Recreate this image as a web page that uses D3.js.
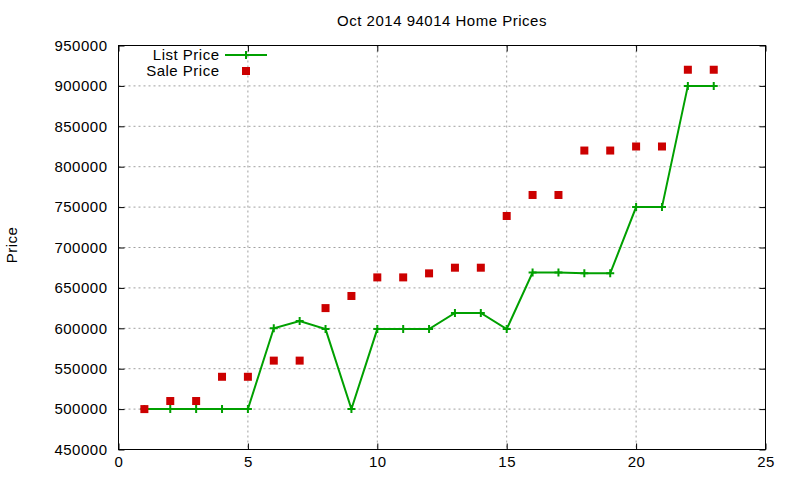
<!DOCTYPE html>
<html>
<head>
<meta charset="utf-8">
<script src="https://cdn.jsdelivr.net/npm/d3@7"></script>
<style>
  body { margin: 0; background: #fff; }
  text { font-family: "Liberation Sans", Arial, sans-serif; font-size: 15px; letter-spacing: 0.5px; fill: #000; }
</style>
</head>
<body>
<script>
let idx = d3.range(1, 24);
let listPrice = [500000, 500000, 500000, 500000, 500000, 600000, 609000, 599000, 500000, 599000,
  599000, 599000, 619000, 619000, 599000, 669000, 669000, 668000, 668000, 750000,
  750000, 900000, 900000];
let salePrice = [500000, 510000, 510000, 540000, 540000, 560000, 560000, 625000, 640000, 663000,
  663000, 668000, 675000, 675000, 739000, 765000, 765000, 820000, 820000, 825000,
  825000, 920000, 920000];
let xTicks = [0, 5, 10, 15, 20, 25];
let yTicks = d3.range(450000, 950001, 50000);

let width = 800, height = 480;
let plotLeft = 118.5, plotRight = 765.5, plotTop = 45.5, plotBottom = 449.5;
let green = "#00a000", red = "#cc0000";

let svg = d3.select("body").append("svg")
  .attr("width", width)
  .attr("height", height);

let x = d3.scaleLinear().domain([0, 25]).range([plotLeft, plotRight]);
let y = d3.scaleLinear().domain([450000, 950000]).range([plotBottom, plotTop]);

// grid
svg.append("g").selectAll("line")
  .data(yTicks.slice(1, -1)).enter()
  .append("line")
  .attr("x1", plotLeft).attr("x2", plotRight)
  .attr("y1", d => y(d)).attr("y2", d => y(d))
  .attr("stroke", "#a0a0a0").attr("stroke-dasharray", "2,3");

svg.append("g").selectAll("line")
  .data(xTicks.slice(1, -1)).enter()
  .append("line")
  .attr("y1", plotTop).attr("y2", plotBottom)
  .attr("x1", d => x(d)).attr("x2", d => x(d))
  .attr("stroke", "#a0a0a0").attr("stroke-dasharray", "2,3");

// axes, ticks inward and mirrored
let yLeft = svg.append("g").attr("transform", `translate(${plotLeft},0)`)
  .call(d3.axisLeft(y).tickValues(yTicks).tickSizeInner(-6).tickSizeOuter(0).tickPadding(11).tickFormat(d3.format("d")));
let yRight = svg.append("g").attr("transform", `translate(${plotRight},0)`)
  .call(d3.axisRight(y).tickValues(yTicks).tickSizeInner(-6).tickSizeOuter(0).tickFormat(""));
let xBottom = svg.append("g").attr("transform", `translate(0,${plotBottom})`)
  .call(d3.axisBottom(x).tickValues(xTicks).tickSizeInner(-6).tickSizeOuter(0).tickPadding(7));
let xTop = svg.append("g").attr("transform", `translate(0,${plotTop})`)
  .call(d3.axisTop(x).tickValues(xTicks).tickSizeInner(-6).tickSizeOuter(0).tickFormat(""));

[yLeft, yRight, xBottom, xTop].forEach(g => {
  g.selectAll(".domain").remove();
  g.attr("font-size", null).attr("font-family", null);
  g.selectAll(".tick line").attr("stroke", "#000");
});

svg.append("rect")
  .attr("x", plotLeft).attr("y", plotTop)
  .attr("width", plotRight - plotLeft).attr("height", plotBottom - plotTop)
  .attr("fill", "none").attr("stroke", "#000");

// list price line
let line = d3.line()
  .x((d, i) => x(idx[i]))
  .y(d => y(d));

svg.append("path")
  .datum(listPrice)
  .attr("d", line)
  .attr("fill", "none")
  .attr("stroke", green)
  .attr("stroke-width", 2);

let plusPath = (cx, cy) => `M${cx - 4},${cy}h8M${cx},${cy - 4}v8`;

svg.append("g").selectAll("path")
  .data(listPrice).enter()
  .append("path")
  .attr("d", (d, i) => plusPath(x(idx[i]), y(d)))
  .attr("stroke", green)
  .attr("stroke-width", 2);

// sale price squares
svg.append("g").selectAll("rect")
  .data(salePrice).enter()
  .append("rect")
  .attr("x", (d, i) => x(idx[i]) - 4)
  .attr("y", d => y(d) - 4)
  .attr("width", 8).attr("height", 8)
  .attr("fill", red);

// title and axis label
svg.append("text")
  .attr("x", (plotLeft + plotRight) / 2).attr("y", 26)
  .attr("text-anchor", "middle")
  .text("Oct 2014 94014 Home Prices");

svg.append("text")
  .attr("transform", "translate(16.5,245) rotate(-90)")
  .attr("text-anchor", "middle")
  .text("Price");

// legend
let legend = svg.append("g");
legend.append("text")
  .attr("x", 219.5).attr("y", 55).attr("dy", "0.35em")
  .attr("text-anchor", "end")
  .text("List Price");
legend.append("line")
  .attr("x1", 225).attr("x2", 267).attr("y1", 55).attr("y2", 55)
  .attr("stroke", green).attr("stroke-width", 2);
legend.append("path")
  .attr("d", plusPath(246, 55))
  .attr("stroke", green).attr("stroke-width", 2);
legend.append("text")
  .attr("x", 219.5).attr("y", 71).attr("dy", "0.35em")
  .attr("text-anchor", "end")
  .text("Sale Price");
legend.append("rect")
  .attr("x", 242).attr("y", 67).attr("width", 8).attr("height", 8)
  .attr("fill", red);
</script>
</body>
</html>
